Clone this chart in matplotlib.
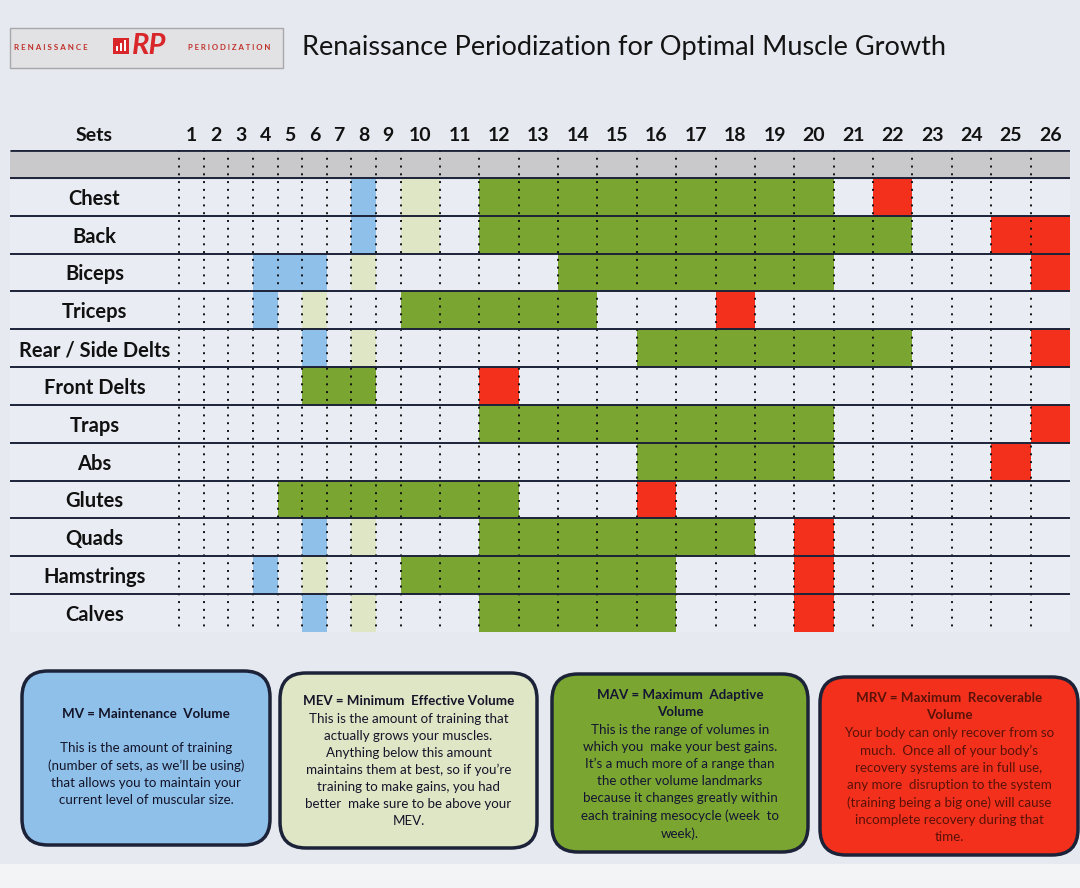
import numpy as np
import matplotlib
matplotlib.use("Agg")
import matplotlib.pyplot as plt
from matplotlib.patches import FancyBboxPatch, Rectangle

plt.rcParams['font.family'] = ['Lato', 'DejaVu Sans']

# ---- data ----
muscles = ["Chest", "Back", "Biceps", "Triceps", "Rear / Side Delts", "Front Delts",
           "Traps", "Abs", "Glutes", "Quads", "Hamstrings", "Calves"]
sets = list(range(1, 27))

# (first set, last set) for each landmark, None = not shown
mv = [(8, 8), (8, 8), (4, 6), (4, 4), (6, 6), None,
      None, None, None, (6, 6), (4, 4), (6, 6)]
mev = [(10, 10), (10, 10), (8, 8), (6, 6), (8, 8), None,
       None, None, None, (8, 8), (6, 6), (8, 8)]
mav = [(12, 20), (12, 22), (14, 20), (10, 14), (16, 22), (6, 8),
       (12, 20), (16, 20), (5, 12), (12, 18), (10, 16), (12, 16)]
mrv = [(22, 22), (25, 26), (26, 26), (18, 18), (26, 26), (12, 12),
       (26, 26), (25, 25), (16, 16), (20, 20), (20, 20), (20, 20)]

legend_titles = ["MV = Maintenance  Volume",
                 "MEV = Minimum  Effective Volume",
                 "MAV = Maximum  Adaptive\nVolume",
                 "MRV = Maximum  Recoverable\nVolume"]
legend_texts = [
    "This is the amount of training\n(number of sets, as we\u2019ll be using)\n"
    "that allows you to maintain your\ncurrent level of muscular size.",
    "This is the amount of training that\nactually grows your muscles.\n"
    "Anything below this amount\nmaintains them at best, so if you\u2019re\n"
    "training to make gains, you had\nbetter  make sure to be above your\nMEV.",
    "This is the range of volumes in\nwhich you  make your best gains.\n"
    "It\u2019s a much more of a range than\nthe other volume landmarks\n"
    "because it changes greatly within\neach training mesocycle (week  to\nweek).",
    "Your body can only recover from so\nmuch.  Once all of your body\u2019s\n"
    "recovery systems are in full use,\nany more  disruption to the system\n"
    "(training being a big one) will cause\nincomplete recovery during that\ntime.",
]

# ---- colours ----
c_mv, c_mev, c_mav, c_mrv = "#8fc0ea", "#dfe6c6", "#7aa530", "#f2301c"
navy = "#1c2238"
bg = "#e6eaf0"

fig = plt.figure(figsize=(10.8, 8.88), dpi=100, facecolor=bg)

# layout layer in pixel units (logo, title, legend boxes)
lay = fig.add_axes([0, 0, 1, 1], zorder=0)
lay.set_xlim(0, 1080)
lay.set_ylim(888, 0)
lay.axis("off")

lay.add_patch(Rectangle((0, 864), 1080, 24, fc="#f3f4f6", ec="none"))

# logo
lay.add_patch(Rectangle((10, 28), 273, 40, fc="#e2e2e4", ec="#a8a8ac", lw=1))
lay.text(14, 48, "R E N A I S S A N C E", fontsize=5.8, color="#c0302a",
         ha="left", va="center", fontweight="bold")
lay.add_patch(Rectangle((113, 38), 16, 16, fc="#d8262a", ec="none"))
for k, h in enumerate([5, 8, 11]):
    lay.add_patch(Rectangle((116 + k * 4, 51 - h), 2, h, fc="white", ec="none"))
lay.text(132, 46, "RP", fontsize=21, color="#d8262a", fontweight="bold",
         style="italic", ha="left", va="center")
lay.text(188, 48, "P E R I O D I Z A T I O N", fontsize=5.6, color="#c0302a",
         ha="left", va="center", fontweight="bold")
lay.text(302, 47, "Renaissance Periodization for Optimal Muscle Growth",
         fontsize=19.5, color="#141414", ha="left", va="center")

# legend boxes
boxes = [(22, 671, 248, 174), (280, 673, 257, 175), (552, 674, 256, 178), (820, 677, 258, 178)]
box_colors = [c_mv, c_mev, c_mav, c_mrv]
text_colors = ["#141428", "#141428", "#141433", "#5a1208"]
title_y = [714, 701, 703, 706]
body_y = [774, 770, 782, 785]
for (x0, y0, w, h), fc, tc, ty, by, tt, bt in zip(boxes, box_colors, text_colors,
                                                  title_y, body_y, legend_titles, legend_texts):
    lay.add_patch(FancyBboxPatch((x0, y0), w, h, boxstyle="round,pad=0,rounding_size=26",
                                 fc=fc, ec=navy, lw=2.5))
    lay.text(x0 + w / 2, ty, tt, ha="center", va="center", fontsize=9.6,
             fontweight="bold", color=tc, linespacing=1.5)
    lay.text(x0 + w / 2, by, bt, ha="center", va="center", fontsize=9.6,
             color=tc, linespacing=1.5)

# ---- grid chart ----
col_w = np.array([1.0 if s <= 9 else 1.6 for s in sets])
edges = np.concatenate([[0], np.cumsum(col_w)])
centers = (edges[:-1] + edges[1:]) / 2
label_w = 6.87
band = 0.74

ax = fig.add_axes([10 / 1080, 1 - 632 / 888, 1060 / 1080, 482 / 888], zorder=1)
ax.set_facecolor("#e9edf3")
ax.set_xlim(-label_w, edges[-1])
ax.set_ylim(len(muscles), -band)
ax.axhspan(-band, 0, color="#c9c9cc", zorder=0)

for ranges, color in [(mv, c_mv), (mev, c_mev), (mav, c_mav), (mrv, c_mrv)]:
    for i, r in enumerate(ranges):
        if r is None:
            continue
        left = edges[r[0] - 1]
        ax.barh(i + 0.5, edges[r[1]] - left, left=left, height=1.0,
                color=color, edgecolor="none", zorder=1)

ax.vlines(edges[:-1], -band, len(muscles), colors="#111111", linewidth=1.4,
          linestyles=(0, (1, 3)), zorder=2)
ax.hlines(np.arange(0, len(muscles)), -label_w, edges[-1], colors=navy,
          linewidth=1.4, zorder=3)
ax.hlines([-band], -label_w, edges[-1], colors=navy, linewidth=2.0, zorder=3)

for i, m in enumerate(muscles):
    ax.text(-label_w / 2, i + 0.55, m, ha="center", va="center",
            fontsize=14.5, fontweight="bold", color="#111111")

ax.xaxis.tick_top()
ax.set_xticks(np.concatenate([[-label_w / 2], centers]))
ax.set_xticklabels(["Sets"] + [str(s) for s in sets], fontsize=14,
                   fontweight="bold", color="#111111")
ax.tick_params(axis="x", length=0, pad=4)
ax.set_yticks([])
for s in ax.spines.values():
    s.set_visible(False)

fig.savefig("out.png", dpi=100, facecolor=bg)
